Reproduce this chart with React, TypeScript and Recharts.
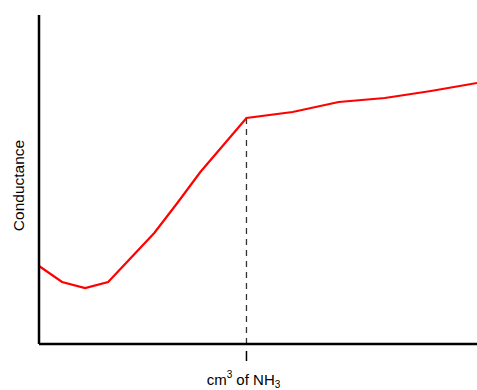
import { Label, Line, LineChart, ReferenceLine, XAxis, YAxis } from 'recharts';

// titration volume steps (arbitrary units along the x axis)
const volume = [0, 1, 2, 3, 5, 6, 7, 9, 11, 13, 15, 17, 19];
// conductance readings (arbitrary units)
const conductance = [78, 62, 56, 62, 111, 141, 172, 226, 232, 242, 246, 253, 261];
const endPoint = 9;
const endPointConductance = 226;
const markedTicks = [endPoint];

const data = volume.map((v, i) => ({ v, c: conductance[i] }));

const FONT = '"Liberation Sans", Arial, sans-serif';

function EndTick(props: any) {
  const { x, y } = props;
  return (
    <g>
      <line x1={x} x2={x} y1={y + 7} y2={y + 17} stroke="#000" strokeWidth={1.5} />
      <text x={x - 3} y={y + 41} textAnchor="middle" fontSize={15} fill="#000" fontFamily={FONT}>
        cm
        <tspan dy={-7} fontSize={10}>3</tspan>
        <tspan dy={7}> of NH</tspan>
        <tspan dy={2.5} fontSize={10}>3</tspan>
      </text>
    </g>
  );
}

function YTitle(props: any) {
  const { viewBox } = props;
  const cx = viewBox.x + 18;
  const cy = viewBox.y + viewBox.height / 2 + 6;
  return (
    <text
      x={cx}
      y={cy}
      transform={`rotate(-90 ${cx} ${cy})`}
      textAnchor="middle"
      dominantBaseline="central"
      fontSize={15.5}
      fill="#000"
      fontFamily={FONT}
    >
      Conductance
    </text>
  );
}

export default function App() {
  return (
    <div style={{ position: 'absolute', left: 0, top: 0, background: '#fff' }}>
      <LineChart width={477} height={390} data={data} margin={{ top: 15, right: 0, bottom: 0, left: 0 }}>
        <XAxis
          type="number"
          dataKey="v"
          domain={[0, 19]}
          ticks={markedTicks}
          height={46}
          tickLine={false}
          tickSize={0}
          tickMargin={0}
          tick={<EndTick />}
          axisLine={{ stroke: '#000', strokeWidth: 2.5 }}
        />
        <YAxis
          type="number"
          domain={[0, 329]}
          width={39}
          tick={false}
          tickLine={false}
          axisLine={{ stroke: '#000', strokeWidth: 2.5 }}
        >
          <Label content={<YTitle />} />
        </YAxis>
        <ReferenceLine
          segment={[
            { x: endPoint, y: 0 },
            { x: endPoint, y: endPointConductance },
          ]}
          stroke="#333"
          strokeWidth={1.3}
          strokeDasharray="6 5"
        />
        <Line
          type="linear"
          dataKey="c"
          stroke="#ff0000"
          strokeWidth={2.2}
          dot={false}
          activeDot={false}
          isAnimationActive={false}
        />
      </LineChart>
    </div>
  );
}
